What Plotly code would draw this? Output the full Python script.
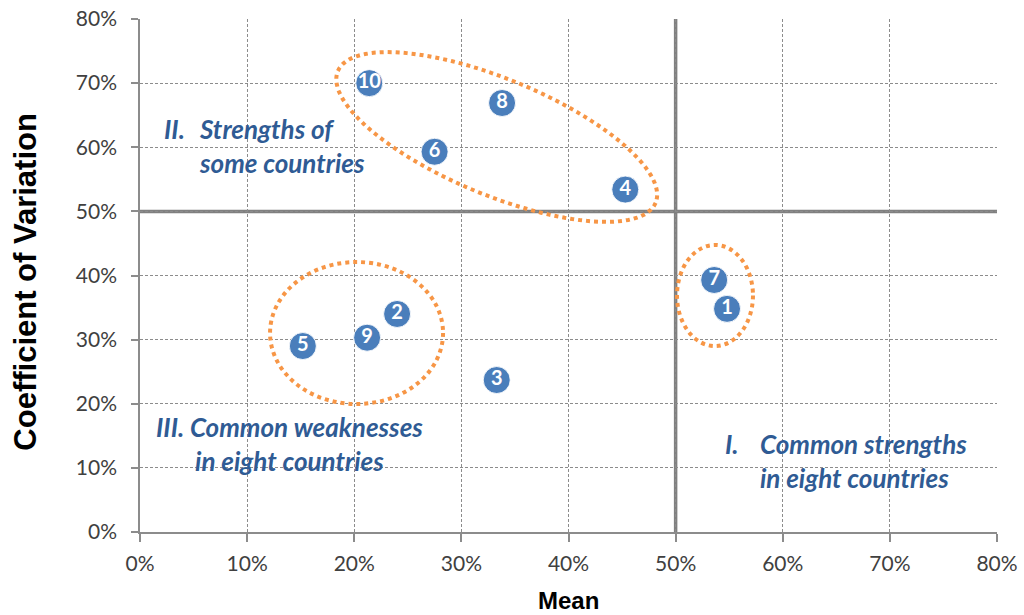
import numpy as np
import plotly.graph_objects as go

# Item labels and their statistics across countries
items = ["1", "2", "3", "4", "5", "6", "7", "8", "9", "10"]
mean = [0.548, 0.240, 0.333, 0.453, 0.152, 0.275, 0.536, 0.338, 0.212, 0.214]
cv = [0.348, 0.340, 0.237, 0.534, 0.290, 0.593, 0.393, 0.669, 0.303, 0.700]

tick_vals = [0.0, 0.1, 0.2, 0.3, 0.4, 0.5, 0.6, 0.7, 0.8]
tick_text = ["0%", "10%", "20%", "30%", "40%", "50%", "60%", "70%", "80%"]

W, H = 1024, 615
M_L, M_R, M_T, M_B = 140, 27, 19, 83
plot_w = W - M_L - M_R
plot_h = H - M_T - M_B
AX_MAX = 0.8

BLUE = "#4a7ebb"
ORANGE = "#f79646"
TXT_BLUE = "#2f5b94"
GRID = "#8c8c8c"

fig = go.Figure()

fig.add_trace(go.Scatter(
    x=mean, y=cv, text=items,
    mode="markers+text",
    textposition="middle center",
    marker=dict(size=27, color=BLUE, line=dict(color="rgba(255,255,255,0.85)", width=1)),
    textfont=dict(family="Lato", size=20, color="white", weight="bold"),
    hoverinfo="skip",
    showlegend=False,
    cliponaxis=False,
))

# Rotated ellipse around items 10, 8, 6, 4 (shape defined in screen pixels, converted to data units)
sx = plot_w / AX_MAX
sy = plot_h / AX_MAX
cx, cy = 0.333, 0.616
a_px, b_px, theta = 172.0, 58.0, np.deg2rad(22.5)
t = np.linspace(0, 2 * np.pi, 121)
dx = a_px * np.cos(t) * np.cos(theta) - b_px * np.sin(t) * np.sin(theta)
dy = a_px * np.cos(t) * np.sin(theta) + b_px * np.sin(t) * np.cos(theta)
ex = cx + dx / sx
ey = cy - dy / sy
path = "M " + " L ".join(f"{x:.5f},{y:.5f}" for x, y in zip(ex, ey)) + " Z"

dotted = dict(color=ORANGE, width=4, dash="4px,4px")
shapes = [
    # quadrant dividers
    dict(type="line", xref="x", yref="y", x0=0.5, x1=0.5, y0=0, y1=AX_MAX,
         line=dict(color="#808080", width=3.5), layer="below"),
    dict(type="line", xref="x", yref="y", x0=0, x1=AX_MAX, y0=0.5, y1=0.5,
         line=dict(color="#808080", width=3.5), layer="below"),
    dict(type="path", xref="x", yref="y", path=path, line=dotted),
    dict(type="circle", xref="x", yref="y", x0=0.1214, x1=0.2829, y0=0.1996, y1=0.421, line=dotted),
    dict(type="circle", xref="x", yref="y", x0=0.5013, x1=0.5722, y0=0.290, y1=0.4476, line=dotted),
]

qfont = dict(family="Lato", size=26, color=TXT_BLUE, style="italic", weight="bold")
annotations = [
    dict(x=0.0205, y=0.628, xref="x", yref="y", text="II.", showarrow=False,
         xanchor="left", yanchor="middle", font=qfont),
    dict(x=0.0532, y=0.602, xref="x", yref="y", text="Strengths of<br>some countries",
         showarrow=False, xanchor="left", yanchor="middle", align="left", font=qfont),
    dict(x=0.140, y=0.1365, xref="x", yref="y", text="III. Common weaknesses<br>in eight countries",
         showarrow=False, xanchor="center", yanchor="middle", align="center", font=qfont),
    dict(x=0.544, y=0.137, xref="x", yref="y", text="I.", showarrow=False,
         xanchor="left", yanchor="middle", font=qfont),
    dict(x=0.577, y=0.1115, xref="x", yref="y", text="Common strengths<br>in eight countries",
         showarrow=False, xanchor="left", yanchor="middle", align="left", font=qfont),
    dict(x=-0.1336, y=0.487, xref="paper", yref="paper", text="Coefficient of Variation",
         textangle=-90, showarrow=False, xanchor="center", yanchor="middle",
         font=dict(family="Liberation Sans", size=31, color="black", weight="bold")),
    dict(x=0.5, y=-0.1345, xref="paper", yref="paper", text="Mean",
         showarrow=False, xanchor="center", yanchor="middle",
         font=dict(family="Liberation Sans", size=24, color="black", weight="bold")),
]

axis_common = dict(
    range=[0, AX_MAX],
    tickvals=tick_vals,
    ticktext=tick_text,
    showgrid=True,
    gridcolor=GRID,
    gridwidth=1,
    griddash="3px,2px",
    zeroline=False,
    showline=True,
    linecolor="#8c8c8c",
    linewidth=1.5,
    ticks="outside",
    tickcolor="#8c8c8c",
    tickwidth=1.5,
    tickfont=dict(family="Lato", size=21, color="#404040"),
    fixedrange=True,
)

fig.update_layout(
    width=W, height=H,
    margin=dict(l=M_L, r=M_R, t=M_T, b=M_B, autoexpand=False),
    paper_bgcolor="white",
    plot_bgcolor="white",
    xaxis=dict(axis_common, ticklen=8, ticklabelstandoff=4),
    yaxis=dict(axis_common, ticklen=7, ticklabelstandoff=10),
    shapes=shapes,
    annotations=annotations,
)

fig.write_html("out.html")
